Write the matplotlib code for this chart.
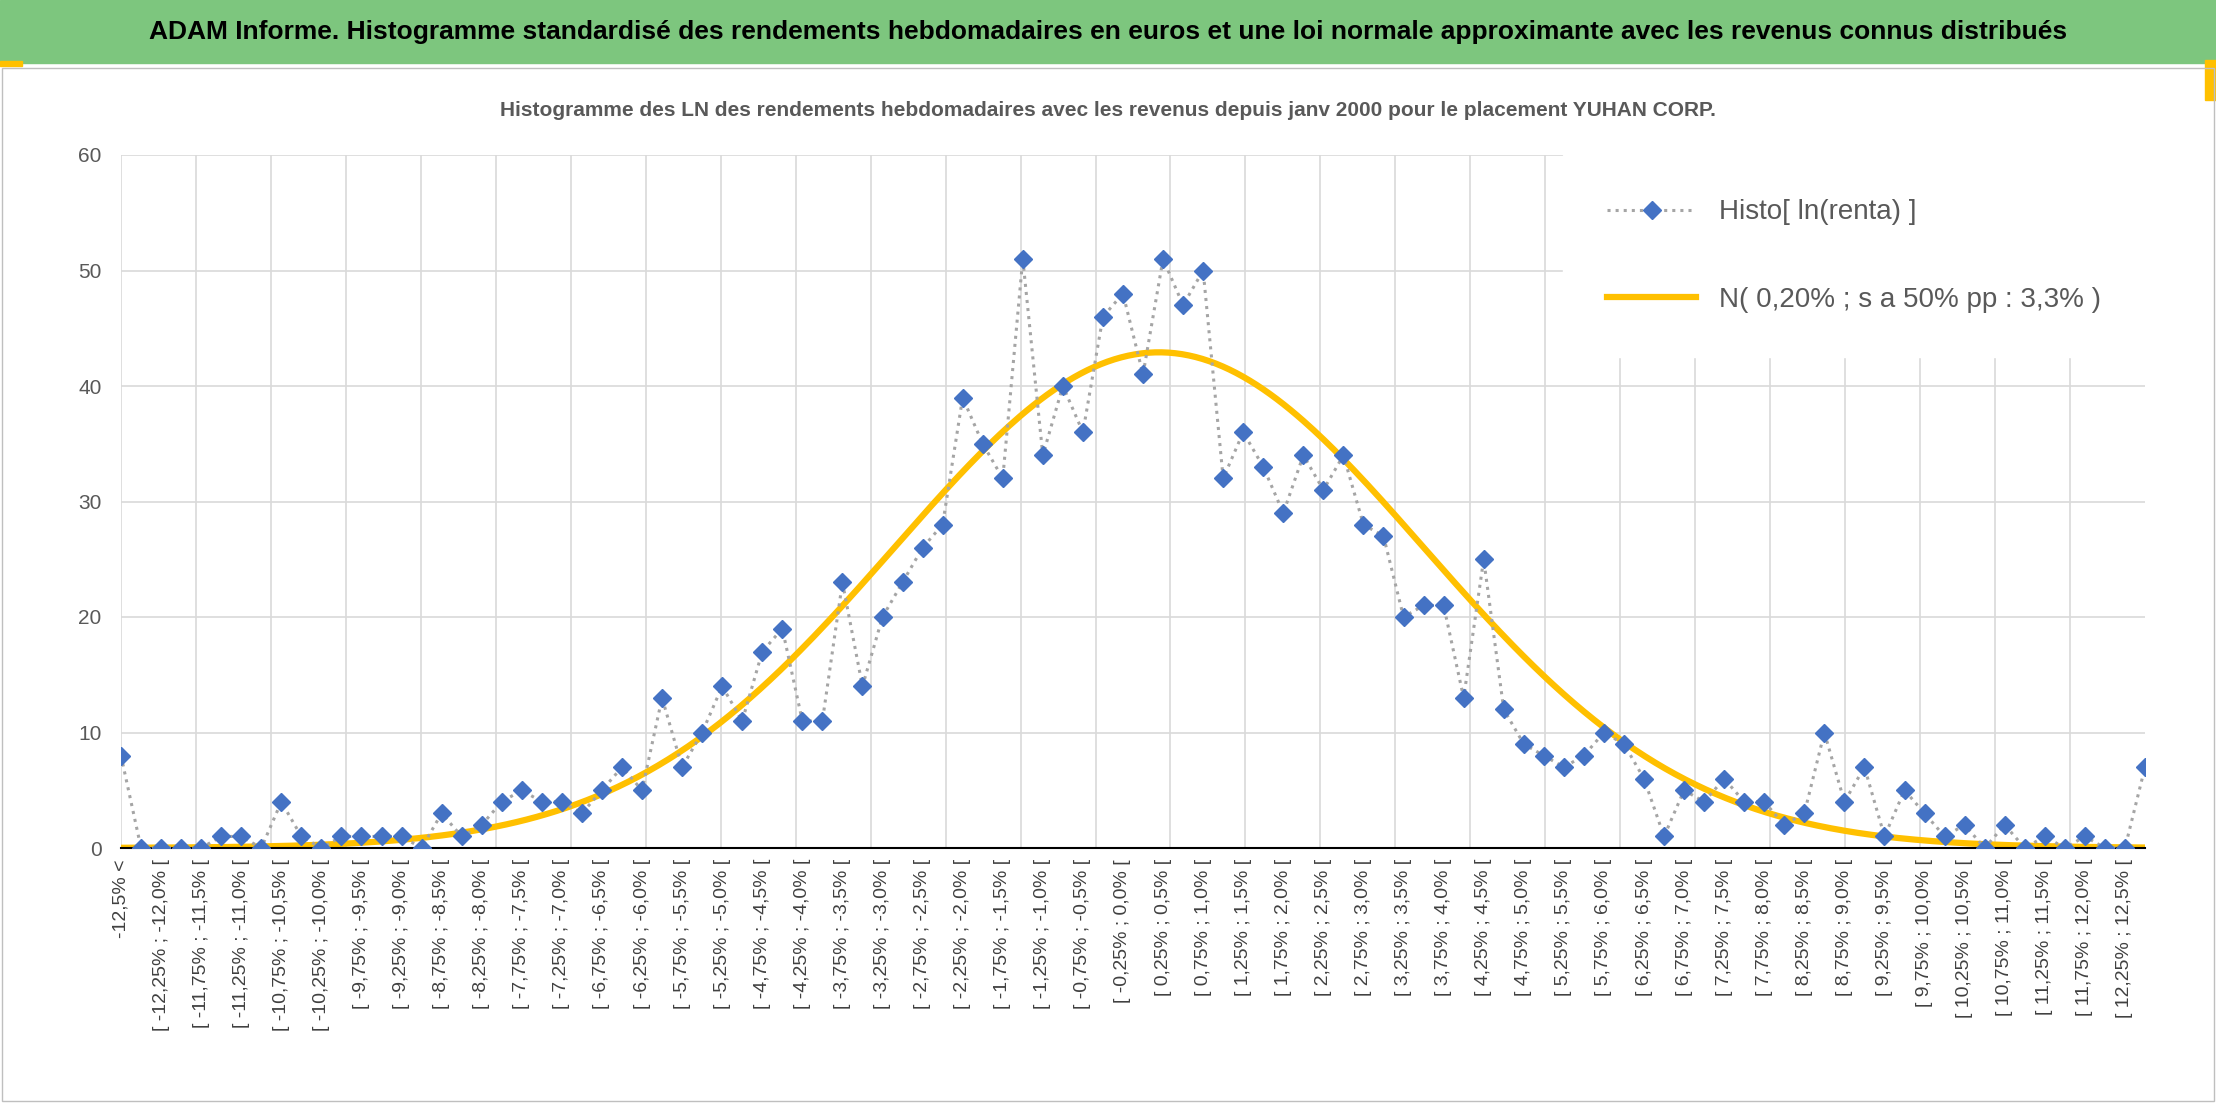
import numpy as np
import matplotlib
matplotlib.use("Agg")
import matplotlib.pyplot as plt
from matplotlib.patches import Rectangle

plt.rcParams['font.family'] = ['Liberation Sans', 'DejaVu Sans']

# comptes de l'histogramme (102 classes : -12,5% <, 100 classes de 0,25%, > 12,5%)
counts = [8, 0, 0, 0, 0, 1, 1, 0, 4, 1, 0, 1, 1, 1, 1, 0, 3, 1, 2, 4,
          5, 4, 4, 3, 5, 7, 5, 13, 7, 10, 14, 11, 17, 19, 11, 11, 23, 14, 20, 23,
          26, 28, 39, 35, 32, 51, 34, 40, 36, 46, 48, 41, 51, 47, 50, 32, 36, 33, 29, 34,
          31, 34, 28, 27, 20, 21, 21, 13, 25, 12, 9, 8, 7, 8, 10, 9, 6, 1, 5, 4,
          6, 4, 4, 2, 3, 10, 4, 7, 1, 5, 3, 1, 2, 0, 2, 0, 1, 0, 1, 0,
          0, 7]

lo_bounds = [-12.5 + 0.25 * k for k in range(100)]

def fr(v):
    s = ("%.2f" % v).rstrip("0")
    if s.endswith("."):
        s += "0"
    return s.replace(".", ",") + "%"

labels = ["-12,5% <"] + ["[ %s ; %s [" % (fr(a), fr(a + 0.25)) for a in lo_bounds] + ["12,5% <="]

mu_pct = 0.20
sigma_pct = 3.3
n_obs = 1420

n = len(counts)
x = np.arange(n)

fig = plt.figure(figsize=(22.16, 11.03), dpi=100)
ax = fig.add_axes([121 / 2216, 1 - 848 / 1103, 2024 / 2216, 693 / 1103])

# bandeau titre
fig.patches.append(Rectangle((0, 1 - 63 / 1103), 1, 63 / 1103, transform=fig.transFigure,
                             color="#7DC67E", zorder=0))
fig.patches.append(Rectangle((0, 1 - 66 / 1103), 22 / 2216, 5 / 1103, transform=fig.transFigure,
                             color="#FFC000", zorder=1))
fig.patches.append(Rectangle((2205 / 2216, 1 - 100 / 1103), 11 / 2216, 40 / 1103,
                             transform=fig.transFigure, color="#FFC000", zorder=1))
fig.patches.append(Rectangle((2 / 2216, 2 / 1103), 2212 / 2216, 1 - 70 / 1103, transform=fig.transFigure,
                             fill=False, ec="#BFBFBF", lw=1))
fig.text(0.5, 1 - 32 / 1103,
         "ADAM Informe. Histogramme standardisé des rendements hebdomadaires en euros et une loi normale approximante avec les revenus connus distribués",
         ha="center", va="center", fontsize=19, fontweight="bold", color="black")
fig.text(0.5, 1 - 110 / 1103,
         "Histogramme des LN des rendements hebdomadaires avec les revenus depuis janv 2000 pour le placement YUHAN CORP.",
         ha="center", va="center", fontsize=15, fontweight="bold", color="#595959")

ax.plot(x, counts, ls=":", color="#A5A5A5", lw=2.2, marker="D", ms=9,
        mfc="#4472C4", mec="#4472C4", label="Histo[ ln(renta) ]", zorder=3)

xs = np.linspace(0, n - 1, 600)
ret = -12.5 + (xs - 1) * 0.25
curve = n_obs * 0.25 / (sigma_pct * np.sqrt(2 * np.pi)) * np.exp(-0.5 * ((ret - mu_pct) / sigma_pct) ** 2)
ax.plot(xs, curve, color="#FFC000", lw=4.5, label="N( 0,20% ; s a 50% pp : 3,3% )", zorder=2)

ax.set_xlim(0, n - 1)
ax.set_ylim(0, 60)
ax.set_yticks(range(0, 61, 10))
ax.set_xticks(x[::2])
ax.set_xticklabels(labels[::2], rotation=90, va="top", ha="center", fontsize=14, color="#404040")
ax.set_xticks(x[::4], minor=True)
ax.tick_params(axis="x", which="major", length=0, pad=8)
ax.tick_params(axis="x", which="minor", length=7, width=1.5, color="black", direction="inout")
ax.tick_params(axis="y", length=0, labelsize=15, labelcolor="#595959", pad=14)

for g in np.arange(0, n - 1, (n - 1) / 27):
    ax.axvline(g, color="#D9D9D9", lw=1.2, zorder=0)
ax.grid(axis="y", color="#D9D9D9", lw=1.2, zorder=0)
for s in ["top", "right", "left"]:
    ax.spines[s].set_visible(False)
ax.spines["bottom"].set_linewidth(1.5)

leg = ax.legend(loc="upper right", fontsize=20, frameon=True, framealpha=1, edgecolor="white",
                labelspacing=2.2, borderpad=1.6, handlelength=3.2, borderaxespad=0)
leg.get_frame().set_boxstyle("square", pad=0)
for t in leg.get_texts():
    t.set_color("#595959")

fig.savefig("out.png", dpi=100)
